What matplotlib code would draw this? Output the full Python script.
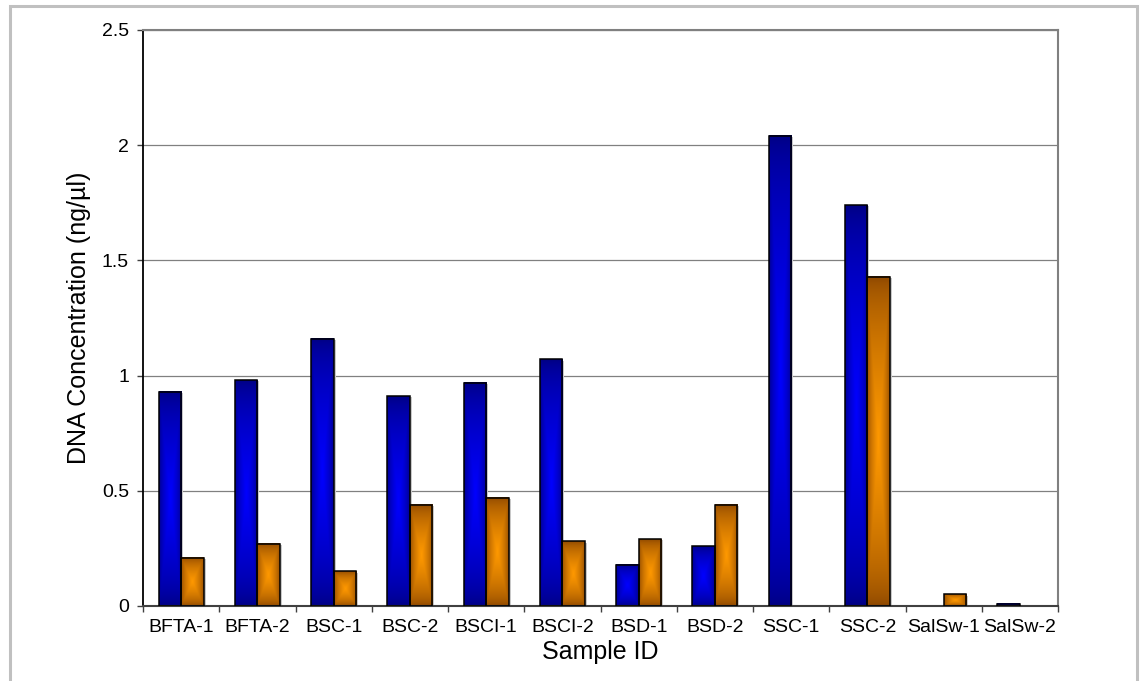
import numpy as np
import matplotlib
matplotlib.use("Agg")
from matplotlib import pyplot as plt
from matplotlib.patches import Rectangle
from matplotlib.colors import to_rgb
import matplotlib.patheffects as pe

plt.rcParams["font.family"] = ["Liberation Sans", "DejaVu Sans"]

samples = ["BFTA-1", "BFTA-2", "BSC-1", "BSC-2", "BSCI-1", "BSCI-2",
           "BSD-1", "BSD-2", "SSC-1", "SSC-2", "SalSw-1", "SalSw-2"]
series_blue = [0.93, 0.98, 1.16, 0.91, 0.97, 1.07, 0.18, 0.26, 2.04, 1.74, 0.0, 0.01]
series_orange = [0.21, 0.27, 0.15, 0.44, 0.47, 0.28, 0.29, 0.44, 0.0, 1.43, 0.05, 0.0]
y_ticks = [0, 0.5, 1, 1.5, 2, 2.5]


def center_gradient(edge, center, n=200, gamma=0.6):
    """Rectangular 'from centre' fill: bright in the middle, dark at the border."""
    u = np.linspace(-1, 1, n)
    uu, vv = np.meshgrid(u, u)
    t = (1 - np.maximum(np.abs(uu), np.abs(vv))) ** gamma
    e = np.array(to_rgb(edge))
    c = np.array(to_rgb(center))
    return e + (c - e) * t[..., None]


fig = plt.figure(figsize=(11.41, 6.81), dpi=100)
ax = fig.add_axes([143 / 1141, 1 - 606 / 681, (1058 - 143) / 1141, (606 - 30) / 681])

x = np.arange(len(samples))
width = 0.295

groups = [
    (x - width / 2, series_blue, center_gradient("#000080", "#0000ff")),
    (x + width / 2, series_orange, center_gradient("#8a4500", "#ff9900")),
]

for pos, vals, img in groups:
    # soft grey drop shadow behind each bar
    ax.bar(pos, vals, width, color="#c8c8c8", zorder=1.5,
           path_effects=[pe.SimplePatchShadow(offset=(1.5, -0.8),
                                              shadow_rgbFace="#c8c8c8", alpha=1)])
    bars = ax.bar(pos, vals, width, facecolor="none", edgecolor="black",
                  linewidth=1.1, zorder=3)
    for bar, v in zip(bars, vals):
        if v <= 0:
            bar.set_linewidth(0)
            continue
        x0, y0 = bar.get_x(), bar.get_y()
        ax.imshow(img, extent=(x0, x0 + bar.get_width(), y0, y0 + bar.get_height()),
                  aspect="auto", interpolation="bilinear", zorder=2)

ax.set_xlim(-0.5, len(samples) - 0.5)
ax.set_ylim(0, 2.5)
ax.set_yticks(y_ticks)
ax.set_yticklabels([f"{t:g}" for t in y_ticks])
ax.set_xticks(x)
ax.set_xticklabels(samples)
ax.set_xticks(np.arange(len(samples) + 1) - 0.5, minor=True)

ax.tick_params(axis="x", which="major", length=0, pad=9, labelsize=14)
ax.tick_params(axis="x", which="minor", length=4.5, width=1, color="#404040",
               direction="out")
ax.tick_params(axis="y", length=4.5, width=1, color="#404040", pad=5.5,
               labelsize=14)

ax.yaxis.grid(True, color="#808080", linewidth=0.9)
ax.set_axisbelow(True)

ax.spines["left"].set_color("black")
ax.spines["left"].set_linewidth(1.3)
ax.spines["bottom"].set_color("#404040")
ax.spines["bottom"].set_linewidth(1.5)
for side in ("top", "right"):
    ax.spines[side].set_color("#808080")
    ax.spines[side].set_linewidth(1.5)

ax.set_xlabel("Sample ID", fontsize=18, labelpad=3)
ax.set_ylabel("DNA Concentration (ng/µl)", fontsize=18, labelpad=8)

# light grey frame around the whole chart
fig.patches.append(Rectangle((10 / 1141, -0.2), (1137 - 10) / 1141, 1.2 - 6 / 681,
                             transform=fig.transFigure, fill=False,
                             edgecolor="#c0c0c0", linewidth=2.2))

fig.savefig("out.png", dpi=100)
